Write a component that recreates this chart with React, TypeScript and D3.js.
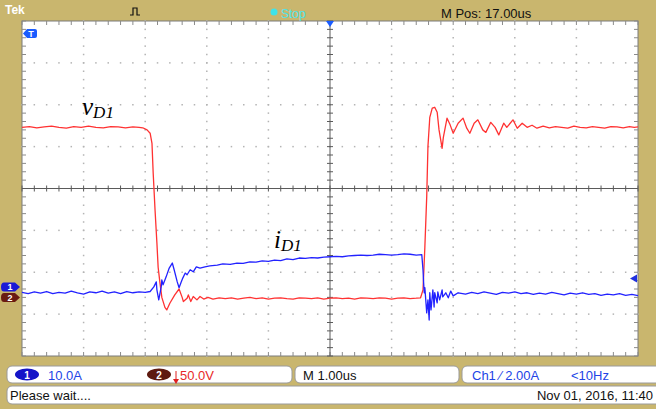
import React, { useEffect, useRef } from 'react';
import * as d3 from 'd3';

// Scope screen: 10 x 8 divisions, M 1.00us/div
const timeDivs = [0, 1, 2, 3, 4, 5, 6, 7, 8, 9, 10];
const levelDivs = [-4, -3, -2, -1, 0, 1, 2, 3, 4];

// channel settings (from the readout line)
const ch1PerDiv = 10; // A/div
const ch1Offset = -2.35; // div
const ch2PerDiv = 50; // V/div
const ch2Offset = -2.6; // div
const trigLevel = 2.0; // A on ch1

// v_D1 (ch2), time in us from left edge of screen, volts
const vD1Time = [
  0, 0.12, 0.24, 0.36, 0.48, 0.6, 0.72, 0.84, 0.96, 1.08, 1.2, 1.32, 1.44, 1.56, 1.68, 1.8, 1.9, 1.96,
  2.03, 2.08, 2.11, 2.13, 2.16, 2.19, 2.21, 2.24, 2.27, 2.32, 2.35, 2.4, 2.48, 2.55, 2.6, 2.62, 2.68,
  2.7, 2.74, 2.78, 2.84, 2.89, 2.95, 3.02, 3.1, 3.2, 3.3, 3.4, 3.5, 3.6, 3.7, 3.8, 3.9, 4.0, 4.1, 4.2,
  4.3, 4.4, 4.5, 4.6, 4.7, 4.8, 4.9, 5.0, 5.1, 5.2, 5.3, 5.4, 5.5, 5.6, 5.7, 5.8, 5.9, 6.0, 6.1, 6.2,
  6.3, 6.4, 6.47, 6.51, 6.54, 6.57, 6.59, 6.62, 6.66, 6.7, 6.74, 6.77, 6.82, 6.84, 6.9, 6.95, 7.0,
  7.08, 7.16, 7.22, 7.27, 7.34, 7.4, 7.48, 7.53, 7.61, 7.68, 7.74, 7.82, 7.87, 7.97, 8.04, 8.12, 8.2,
  8.28, 8.36, 8.46, 8.56, 8.66, 8.76, 8.86, 8.96, 9.06, 9.16, 9.26, 9.36, 9.46, 9.56, 9.66, 9.76,
  9.86, 9.94, 10.0,
];
const vD1Volts = [
  203, 204, 202.5, 203.5, 204.5, 203, 202, 204, 203, 204.5, 203, 202.5, 204, 203.5, 202.5, 203.5, 203, 202.5,
  200, 196, 184, 148, 104, 65, 36, 17, 0, -12, -15, -7, 3, 10, 0, -5, -1,
  3, -5, 1, -3, 1, -2, 0, -2, -0.5, -1.5, -0.5, -2, -1, 0, -1.5, -0.5, -2, -1, -0.5,
  -1.5, -2, -0.5, -1, -1.5, -0.5, -2, -1, -0.5, -1.5, -1, -2, -0.5, -1, -1.5, -0.5, -1, -2, -1, -0.5,
  -1.5, -1, -0.5, 9, 60, 120, 180, 215, 226, 227, 221, 200, 178, 191, 214, 206, 196,
  208, 214, 202, 196, 208, 212, 200, 197, 209, 203, 194, 208, 203, 212, 202, 208, 203,
  205.5, 202, 204.5, 202.5, 204, 203, 202, 204.5, 203, 202.5, 204, 203, 202, 204, 203.5, 202.5,
  204, 203, 203.5,
];

// i_D1 (ch1), time in us, amps
const iD1Time = [
  0, 0.1, 0.2, 0.3, 0.4, 0.5, 0.6, 0.7, 0.8, 0.9, 1.0, 1.1, 1.2, 1.3, 1.4, 1.5, 1.6, 1.7, 1.8, 1.9, 2.0,
  2.08, 2.14, 2.18, 2.19, 2.22, 2.26, 2.27, 2.29, 2.34, 2.39, 2.44, 2.47, 2.52, 2.55, 2.58, 2.61, 2.65,
  2.68, 2.73, 2.78, 2.83, 2.89, 2.97, 3.05, 3.17, 3.26, 3.38, 3.49, 3.59, 3.7, 3.8, 3.9, 4.0, 4.1, 4.2,
  4.3, 4.4, 4.5, 4.6, 4.7, 4.8, 4.9, 5.0, 5.1, 5.2, 5.3, 5.4, 5.5, 5.6, 5.7, 5.8, 5.9, 6.0, 6.1, 6.2,
  6.3, 6.4, 6.49, 6.51, 6.52, 6.53, 6.54, 6.57, 6.59, 6.61, 6.62, 6.64, 6.67, 6.69, 6.7, 6.74, 6.75,
  6.78, 6.82, 6.83, 6.88, 6.92, 6.96, 7.0, 7.08, 7.2, 7.3, 7.4, 7.5, 7.6, 7.7, 7.8, 7.9, 8.0, 8.1, 8.2,
  8.3, 8.4, 8.5, 8.6, 8.7, 8.8, 8.9, 9.0, 9.1, 9.2, 9.3, 9.4, 9.5, 9.6, 9.7, 9.8, 9.9, 10.0,
];
const iD1Amps = [
  -1.3, -1.6, -1.2, -1.5, -1.1, -1.6, -1.3, -1.5, -1.0, -1.4, -1.7, -1.2, -1.4, -1.0, -1.5, -1.2, -1.6, -1.1, -1.4, -1.2, -1.3,
  -1.1, 0, 1.2, -0.7, -3.1, 0, 1.7, 0.5, 2.4, 4.5, 5.7, 4.1, 1.2, -0.2, 1.0, 2.1, 3.3,
  2.9, 4.1, 3.6, 4.8, 4.5, 4.8, 5.0, 5.2, 5.5, 5.4, 5.7, 5.6, 6.0, 5.9, 6.2, 6.1, 6.4, 6.3,
  6.7, 6.5, 6.9, 6.8, 7.0, 6.9, 7.1, 7.2, 7.3, 7.2, 7.4, 7.5, 7.6, 7.5, 7.6, 7.8, 7.7, 7.6, 7.7, 7.9,
  7.8, 7.6, 7.7, 4.0, 1.0, -1.4, -0.2, -6.2, -3.1, -7.9, -1.4, -5.5, -0.7, -4.8, -1.4, -3.8, -1.2,
  -3.1, -0.7, -2.4, -1.4, -2.6, -1.0, -2.15, -1.4, -1.7, -1.3, -1.6, -1.2, -1.5, -1.8, -1.3, -1.5, -1.2, -1.6, -1.4,
  -1.8, -1.5, -1.7, -1.3, -1.6, -1.9, -1.5, -1.7, -1.4, -1.8, -1.6, -2.0, -1.7, -1.9, -1.6, -2.0, -1.8, -2.1,
];

const W = 656;
const H = 409;
const plot = { left: 22, right: 638, top: 21, bottom: 356 };

const khaki = '#c9b66e';
const red = '#ff3232';
const blue = '#2222ff';
const uiFont = '"Liberation Sans", Arial, sans-serif';
const labelFont = '"Liberation Serif", "Times New Roman", serif';

const App = () => {
  const svgRef = useRef<SVGSVGElement>(null);

  useEffect(() => {
    const svg = d3.select(svgRef.current);
    svg.selectAll('*').remove();

    const x = d3.scaleLinear().domain([0, 10]).range([plot.left, plot.right]);
    const y = d3.scaleLinear().domain([-4, 4]).range([plot.bottom, plot.top]);
    const minorX = d3.range(0, 51).map(i => i / 5);
    const minorY = d3.range(-20, 21).map(i => i / 5);

    // background + screen
    svg.append('rect').attr('width', W).attr('height', H).attr('fill', khaki);
    svg.append('rect')
      .attr('x', plot.left).attr('y', plot.top)
      .attr('width', plot.right - plot.left).attr('height', plot.bottom - plot.top)
      .attr('fill', '#fff').attr('stroke', '#7a7a7a').attr('stroke-width', 1);

    // dotted graticule
    const grid = svg.append('g').attr('fill', '#b4b4b4');
    timeDivs.filter(d => d > 0 && d < 10 && d !== 5).forEach(d => {
      minorY.forEach(m => {
        grid.append('rect').attr('x', x(d) - 0.75).attr('y', y(m) - 0.75).attr('width', 1.5).attr('height', 1.5);
      });
    });
    levelDivs.filter(d => d > -4 && d < 4 && d !== 0).forEach(d => {
      minorX.forEach(m => {
        grid.append('rect').attr('x', x(m) - 0.75).attr('y', y(d) - 0.75).attr('width', 1.5).attr('height', 1.5);
      });
    });

    // ticks along the screen border
    const ticks = svg.append('g').attr('stroke', '#8a8a8a').attr('stroke-width', 1);
    minorX.forEach(m => {
      ticks.append('line').attr('x1', x(m)).attr('x2', x(m)).attr('y1', plot.top).attr('y2', plot.top + 4);
      ticks.append('line').attr('x1', x(m)).attr('x2', x(m)).attr('y1', plot.bottom - 4).attr('y2', plot.bottom);
    });
    minorY.forEach(m => {
      ticks.append('line').attr('x1', plot.left).attr('x2', plot.left + 4).attr('y1', y(m)).attr('y2', y(m));
      ticks.append('line').attr('x1', plot.right - 4).attr('x2', plot.right).attr('y1', y(m)).attr('y2', y(m));
    });

    // center crosshair with minor ticks
    const cross = svg.append('g').attr('stroke', '#5a5a5a').attr('stroke-width', 1);
    cross.append('line').attr('x1', plot.left).attr('x2', plot.right).attr('y1', y(0)).attr('y2', y(0));
    cross.append('line').attr('x1', x(5)).attr('x2', x(5)).attr('y1', plot.top).attr('y2', plot.bottom);
    minorX.forEach(m => {
      cross.append('line').attr('x1', x(m)).attr('x2', x(m)).attr('y1', y(0) - 3).attr('y2', y(0) + 3);
    });
    minorY.forEach(m => {
      cross.append('line').attr('x1', x(5) - 3).attr('x2', x(5) + 3).attr('y1', y(m)).attr('y2', y(m));
    });

    // traces
    const vLine = d3.line<number>()
      .x((_, i) => x(vD1Time[i]))
      .y(v => y(v / ch2PerDiv + ch2Offset));
    const iLine = d3.line<number>()
      .x((_, i) => x(iD1Time[i]))
      .y(a => y(a / ch1PerDiv + ch1Offset));

    svg.append('path').datum(vD1Volts)
      .attr('fill', 'none').attr('stroke', red).attr('stroke-width', 1.3)
      .attr('stroke-linejoin', 'round').attr('d', vLine);
    svg.append('path').datum(iD1Amps)
      .attr('fill', 'none').attr('stroke', blue).attr('stroke-width', 1.3)
      .attr('stroke-linejoin', 'round').attr('d', iLine);

    // trace labels
    const vLabel = svg.append('text').attr('x', 82).attr('y', 115)
      .style('font-family', labelFont).style('font-style', 'italic').style('font-size', '25px').style('fill', '#000');
    vLabel.append('tspan').text('v');
    vLabel.append('tspan').attr('dy', 3).style('font-size', '17px').text('D1');

    const iLabel = svg.append('text').attr('x', 274).attr('y', 248)
      .style('font-family', labelFont).style('font-style', 'italic').style('font-size', '25px').style('fill', '#000');
    iLabel.append('tspan').text('i');
    iLabel.append('tspan').attr('dy', 3).style('font-size', '17px').text('D1');

    // channel ground markers on the left
    const marker = (cy: number, fill: string, label: string) => {
      svg.append('path')
        .attr('d', `M4,${cy - 4.5} H15 L20,${cy} L15,${cy + 4.5} H4 Q1,${cy + 4.5} 1,${cy} Q1,${cy - 4.5} 4,${cy - 4.5} Z`)
        .attr('fill', fill);
      svg.append('text').attr('x', 10).attr('y', cy + 3.5).attr('text-anchor', 'middle')
        .style('font-family', uiFont).style('font-weight', 'bold').style('font-size', '9px').style('fill', '#fff')
        .text(label);
    };
    marker(y(ch1Offset), '#1a1ad6', '1');
    marker(y(ch2Offset), '#6a1c12', '2');

    // trigger level arrow on the right
    const ty = y(trigLevel / ch1PerDiv + ch1Offset);
    svg.append('path').attr('d', `M630,${ty} L637,${ty - 4} V${ty + 4} Z`).attr('fill', '#2030e0');

    // trigger position markers
    svg.append('path').attr('d', `M${x(5) - 4},${plot.top} H${x(5) + 4} L${x(5)},${plot.top + 6} Z`).attr('fill', '#1a5cff');
    svg.append('path').attr('d', 'M23,33.5 L27,29 H35 Q37,29 37,31 V36 Q37,38 35,38 H27 Z').attr('fill', '#1a5cff');
    svg.append('text').attr('x', 31).attr('y', 37).attr('text-anchor', 'middle')
      .style('font-family', uiFont).style('font-weight', 'bold').style('font-size', '9px').style('fill', '#fff')
      .text('T');

    // top status bar
    svg.append('text').attr('x', 5).attr('y', 14)
      .style('font-family', uiFont).style('font-weight', 'bold').style('font-size', '12px').style('fill', '#fff')
      .text('Tek');
    svg.append('path').attr('d', 'M130,15 H133 V8 H137 V15 H140').attr('fill', 'none').attr('stroke', '#111').attr('stroke-width', 1.2);
    svg.append('circle').attr('cx', 274).attr('cy', 12).attr('r', 3.5).attr('fill', '#3fe3ea');
    svg.append('text').attr('x', 281).attr('y', 18)
      .style('font-family', uiFont).style('font-size', '12px').style('fill', '#4fe5ec')
      .text('Stop');
    svg.append('text').attr('x', 441).attr('y', 18)
      .style('font-family', uiFont).style('font-size', '13px').style('fill', '#111')
      .text('M Pos: 17.00us');

    // bottom readout boxes
    const box = (bx: number, by: number, bw: number, bh: number) => {
      svg.append('rect').attr('x', bx).attr('y', by).attr('width', bw).attr('height', bh)
        .attr('rx', 5).attr('fill', '#fff').attr('stroke', '#9a9a9a').attr('stroke-width', 1);
    };
    const readout = (tx: number, ty2: number, fill: string, s: string, anchor = 'start') => {
      svg.append('text').attr('x', tx).attr('y', ty2).attr('text-anchor', anchor)
        .style('font-family', uiFont).style('font-size', '13px').style('fill', fill).text(s);
    };
    box(7, 366, 285, 17);
    box(295, 366, 164, 17);
    box(462, 366, 210, 17);
    box(7, 386, 665, 18);

    svg.append('ellipse').attr('cx', 27).attr('cy', 374.5).attr('rx', 12).attr('ry', 6).attr('fill', '#1414c8');
    svg.append('text').attr('x', 27).attr('y', 378.5).attr('text-anchor', 'middle')
      .style('font-family', uiFont).style('font-weight', 'bold').style('font-size', '10px').style('fill', '#fff').text('1');
    readout(48, 379.5, '#2244e6', '10.0A');

    svg.append('ellipse').attr('cx', 159).attr('cy', 374.5).attr('rx', 12).attr('ry', 6).attr('fill', '#5e1a10');
    svg.append('text').attr('x', 159).attr('y', 378.5).attr('text-anchor', 'middle')
      .style('font-family', uiFont).style('font-weight', 'bold').style('font-size', '10px').style('fill', '#fff').text('2');
    svg.append('line').attr('x1', 176).attr('x2', 176).attr('y1', 371).attr('y2', 380).attr('stroke', '#e02020').attr('stroke-width', 1);
    svg.append('path').attr('d', 'M173,379 H179 L176,384 Z').attr('fill', '#e02020');
    readout(180, 379.5, '#e82828', '50.0V');

    readout(303, 379.5, '#111', 'M 1.00us');
    readout(472, 379.5, '#2244e6', 'Ch1 \u2044 2.00A');
    readout(571, 379.5, '#2244e6', '<10Hz');

    readout(10, 400, '#111', 'Please wait....');
    readout(653, 400, '#111', 'Nov 01, 2016, 11:40', 'end');
  }, []);

  return (
    <svg
      ref={svgRef}
      width={W}
      height={H}
      style={{ position: 'absolute', left: 0, top: 0, display: 'block' }}
    />
  );
};

export default App;
